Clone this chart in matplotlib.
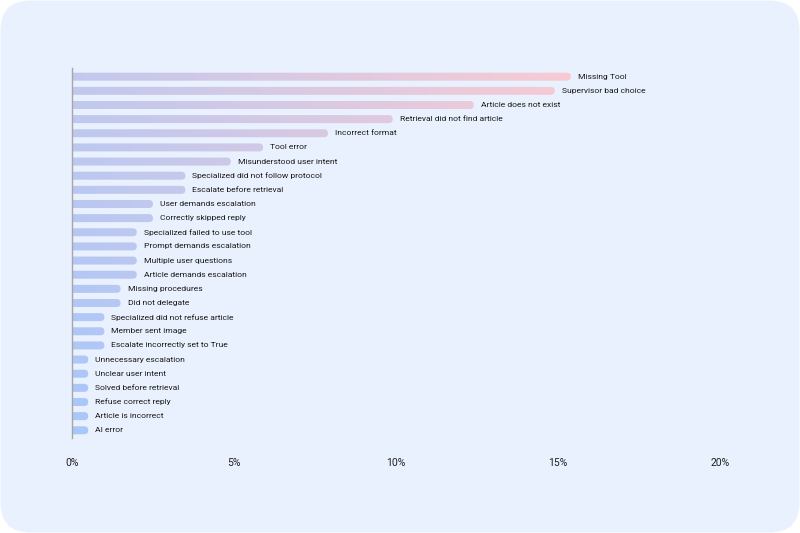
import numpy as np
import matplotlib
matplotlib.use('Agg')
import matplotlib.pyplot as plt
from matplotlib.patches import FancyBboxPatch
from matplotlib.transforms import IdentityTransform
from matplotlib.colors import to_rgb

## data (top to bottom)
categories = ['Missing Tool', 'Supervisor bad choice', 'Article does not exist',
              'Retrieval did not find article', 'Incorrect format', 'Tool error',
              'Misunderstood user intent', 'Specialized did not follow protocol',
              'Escalate before retrieval', 'User demands escalation',
              'Correctly skipped reply', 'Specialized failed to use tool',
              'Prompt demands escalation', 'Multiple user questions',
              'Article demands escalation', 'Missing procedures', 'Did not delegate',
              'Specialized did not refuse article', 'Member sent image',
              'Escalate incorrectly set to True', 'Unnecessary escalation',
              'Unclear user intent', 'Solved before retrieval', 'Refuse correct reply',
              'Article is incorrect', 'AI error']
values = [15.4, 14.9, 12.4, 9.9, 7.9, 5.9, 4.9, 3.5, 3.5, 2.5, 2.5, 2.0, 2.0, 2.0,
          2.0, 1.5, 1.5, 1.0, 1.0, 1.0, 0.5, 0.5, 0.5, 0.5, 0.5, 0.5]
xticks = [0, 5, 10, 15, 20]
xtick_labels = ['0%', '5%', '10%', '15%', '20%']

plt.rcParams['font.family'] = ['Roboto', 'DejaVu Sans']

W, H = 800, 533
fig = plt.figure(figsize=(W / 100, H / 100), dpi=100, facecolor='white')

bg = FancyBboxPatch((0.5, 0.5), W - 1, H - 1, boxstyle='round,pad=0,rounding_size=30',
                    transform=IdentityTransform(), facecolor='#EAF1FE', edgecolor='none',
                    zorder=-10)
fig.patches.append(bg)

n = len(categories)
ax = fig.add_axes([0.09, 0.1776, 0.81, 0.6955])
ax.set_facecolor('none')
ylo, yhi = -0.57, n - 1 + 0.64
ax.set_xlim(0, 20)
ax.set_ylim(ylo, yhi)

# pixels per data unit
ppx = 0.81 * W / 20
ppy = 0.6955 * H / (yhi - ylo)
bar_px = 8
r_px = 4
r_x = r_px / ppx
aspect = (r_px / ppy) / r_x

blue = np.array(to_rgb('#A8C7FA'))
pink = np.array(to_rgb('#F8CBD3'))
vmax = max(values)
gx = np.linspace(0, 20, 400)
gy = np.linspace(ylo, yhi, 200)
GX, GY = np.meshgrid(gx, gy)
t = np.clip(0.67 * GX / vmax + 0.33 * (GY - ylo) / (yhi - ylo), 0, 1)
grad = blue[None, None, :] * (1 - t[..., None]) + pink[None, None, :] * t[..., None]

bh = bar_px / ppy
for i, (cat, v) in enumerate(zip(categories, values)):
    y = n - 1 - i
    p = FancyBboxPatch((-0.3, y - bh / 2), v + 0.3, bh,
                       boxstyle=f'round,pad=0,rounding_size={r_x}',
                       mutation_aspect=aspect, facecolor='none', edgecolor='none')
    ax.add_patch(p)
    im = ax.imshow(grad, extent=(0, 20, ylo, yhi), origin='lower', aspect='auto',
                   interpolation='bilinear', zorder=2)
    im.set_clip_path(p)
    ax.text(v + 7 / ppx, y, cat, va='center', ha='left', fontsize=6.1,
            color='#1A1A1A', zorder=3)

ax.set_xlim(0, 20)
ax.set_ylim(ylo, yhi)
ax.set_xticks(xticks)
ax.set_xticklabels(xtick_labels, fontsize=7.5, color='#1F1F1F')
ax.set_yticks([])
ax.tick_params(axis='x', length=0, pad=14)
for s in ['top', 'right', 'bottom']:
    ax.spines[s].set_visible(False)
ax.spines['left'].set_color('#A6A6A6')
ax.spines['left'].set_linewidth(1)
ax.spines['left'].set_zorder(4)

fig.savefig('out.png', dpi=100, facecolor='white')
